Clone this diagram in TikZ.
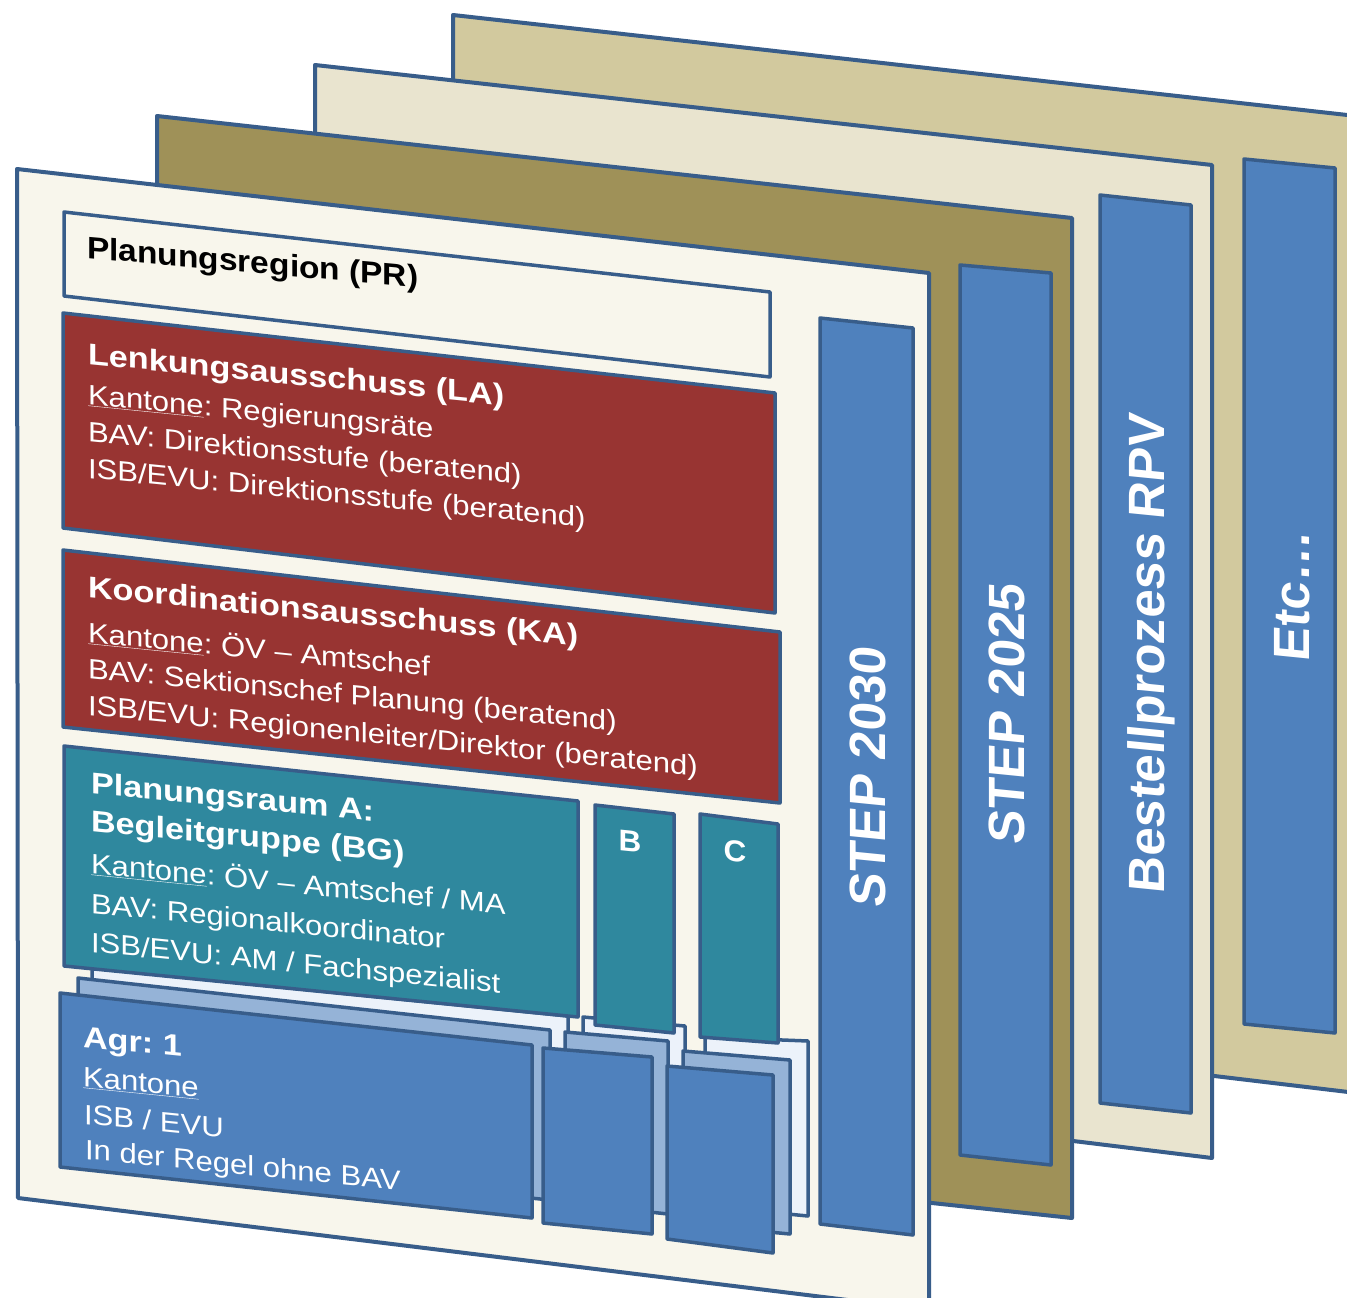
\documentclass[tikz,border=0pt]{standalone}
\usepackage{fontspec}
\setmainfont{Liberation Sans}
\frenchspacing
\definecolor{edge}{RGB}{56,93,138}
\definecolor{cream}{RGB}{248,246,236}
\definecolor{olive}{RGB}{159,145,88}
\definecolor{beige}{RGB}{233,228,207}
\definecolor{tan}{RGB}{210,201,158}
\definecolor{barblue}{RGB}{79,129,189}
\definecolor{boxred}{RGB}{152,52,50}
\definecolor{teal}{RGB}{47,136,158}
\definecolor{lightblue}{RGB}{149,179,215}
\definecolor{paleblue}{RGB}{236,242,250}
\tikzset{
  panel/.style={draw=edge, line width=4pt, line join=round},
  bar/.style={draw=edge, fill=barblue, line width=3.5pt, line join=round},
  box/.style={draw=edge, line width=3.5pt, line join=round},
  txtbase/.style={anchor=base west, inner sep=0pt, outer sep=0pt, text=white},
  ttl/.style={txtbase, font=\fontsize{30}{34}\selectfont\bfseries, cm={1.14,-0.114,0,1,(0,0)}},
  bdy/.style={txtbase, font=\fontsize{28}{32}\selectfont, cm={1.11,-0.111,0,1,(0,0)}},
  vtxt/.style={anchor=base, inner sep=0pt, outer sep=0pt, text=white, font=\fontsize{51}{60}\selectfont\bfseries, cm={1,-0.1,0,1,(0,0)}, rotate=90},
  letter/.style={anchor=center, inner sep=0pt, text=white, font=\fontsize{30}{34}\selectfont\bfseries, cm={1.05,-0.105,0,1,(0,0)}}
}
\begin{document}
\begin{tikzpicture}[x=1pt,y=-1pt]
\useasboundingbox (0,0) rectangle (1347,1298);
\fill[white] (0,0) rectangle (1347,1298);
\clip (0,0) rectangle (1347,1298);

% panel 4
\draw[panel, fill=tan] (453,15) -- (1365,117) -- (1365,1094) -- (453,985) -- cycle;
\draw[bar] (1244,159) -- (1335,168) -- (1335,1033) -- (1244,1024) -- cycle;
\node[vtxt] (etc) at (1309,597) {Etc…};

% panel 3
\draw[panel, fill=beige] (315,65) -- (1212,165) -- (1212,1158) -- (315,1048) -- cycle;
\draw[bar] (1100,195) -- (1191,205) -- (1191,1113) -- (1100,1103) -- cycle;
\node[vtxt] (rpv) at (1164,655) {Bestellprozess RPV};

% panel 2
\draw[panel, fill=olive] (157,116) -- (1072,218) -- (1072,1218) -- (157,1120) -- cycle;
\draw[bar] (960,265) -- (1051,273) -- (1051,1165) -- (960,1155) -- cycle;
\node[vtxt] (s25) at (1024,715) {STEP 2025};

% panel 1
\draw[panel, fill=cream] (17,169) -- (929,273) -- (929,1310) -- (18,1198) -- cycle;
\draw[bar] (820,318) -- (913,328) -- (913,1235) -- (820,1224) -- cycle;
\node[vtxt] (s30) at (885,778) {STEP 2030};

% PR box
\draw[box, fill=cream] (64,212) -- (770,292) -- (770,377) -- (64,296) -- cycle;
\node[anchor=base west, inner sep=0pt, font=\fontsize{31}{36}\selectfont\bfseries, cm={1.08,-0.097,0,1,(0,0)}] (pr) at (87,258) {Planungsregion (PR)};

% LA box
\draw[box, fill=boxred] (63,313) -- (775,393) -- (775,613) -- (63,528) -- cycle;
\node[ttl] (la1) at (88,364) {Lenkungsausschuss (LA)};
\node[bdy] (la2) at (88,404) {\underline{Kantone}: Regierungsräte};
\node[bdy] (la3) at (88,441) {BAV: Direktionsstufe (beratend)};
\node[bdy] (la4) at (88,478) {ISB/EVU: Direktionsstufe (beratend)};

% KA box
\draw[box, fill=boxred] (63,550) -- (780,632) -- (780,803) -- (63,727) -- cycle;
\node[ttl] (ka1) at (88,597) {Koordinationsausschuss (KA)};
\node[bdy] (ka2) at (88,642) {\underline{Kantone}: ÖV – Amtschef};
\node[bdy] (ka3) at (88,678) {BAV: Sektionschef Planung (beratend)};
\node[bdy] (ka4) at (88,715) {ISB/EVU: Regionenleiter/Direktor (beratend)};

% stacks A
\draw[box, fill=paleblue] (92,968) -- (568,1016) -- (568,1185) -- (92,1140) -- cycle;
\draw[box, fill=lightblue] (78,978) -- (550,1030) -- (550,1200) -- (78,1152) -- cycle;
\draw[box, fill=barblue] (60,993) -- (532,1045) -- (532,1218) -- (60,1167) -- cycle;
% stacks B
\draw[box, fill=paleblue] (583,1017) -- (685,1026) -- (685,1197) -- (583,1185) -- cycle;
\draw[box, fill=lightblue] (565,1032) -- (668,1041) -- (668,1214) -- (565,1203) -- cycle;
\draw[box, fill=barblue] (543,1048) -- (652,1057) -- (652,1234) -- (543,1223) -- cycle;
% stacks C
\draw[box, fill=paleblue] (705,1037) -- (808,1041) -- (808,1216) -- (705,1206) -- cycle;
\draw[box, fill=lightblue] (683,1051) -- (790,1060) -- (790,1234) -- (683,1224) -- cycle;
\draw[box, fill=barblue] (667,1066) -- (773,1075) -- (773,1253) -- (667,1239) -- cycle;

% teal boxes
\draw[box, fill=teal] (64,746) -- (578,801) -- (578,1017) -- (64,966) -- cycle;
\draw[box, fill=teal] (595,805) -- (674,814) -- (674,1033) -- (595,1025) -- cycle;
\draw[box, fill=teal] (700,814) -- (778,824) -- (778,1043) -- (700,1037) -- cycle;
\node[letter] (bb) at (630,841) {B};
\node[letter] (cc) at (735,851) {C};

\node[ttl] (bg1) at (91,793) {Planungsraum A:};
\node[ttl] (bg2) at (91,831) {Begleitgruppe (BG)};
\node[bdy] (bg3) at (91,873) {\underline{Kantone}: ÖV – Amtschef / MA};
\node[bdy] (bg4) at (91,913) {BAV: Regionalkoordinator};
\node[bdy] (bg5) at (91,952) {ISB/EVU: AM / Fachspezialist};

\node[ttl] (ag1) at (83,1047) {Agr: 1};
\node[bdy] (ag2) at (83,1086) {\underline{Kantone}};
\node[bdy] (ag3) at (84,1124) {ISB / EVU};
\node[bdy] (ag4) at (85,1159) {In der Regel ohne BAV};
\end{tikzpicture}
\end{document}
